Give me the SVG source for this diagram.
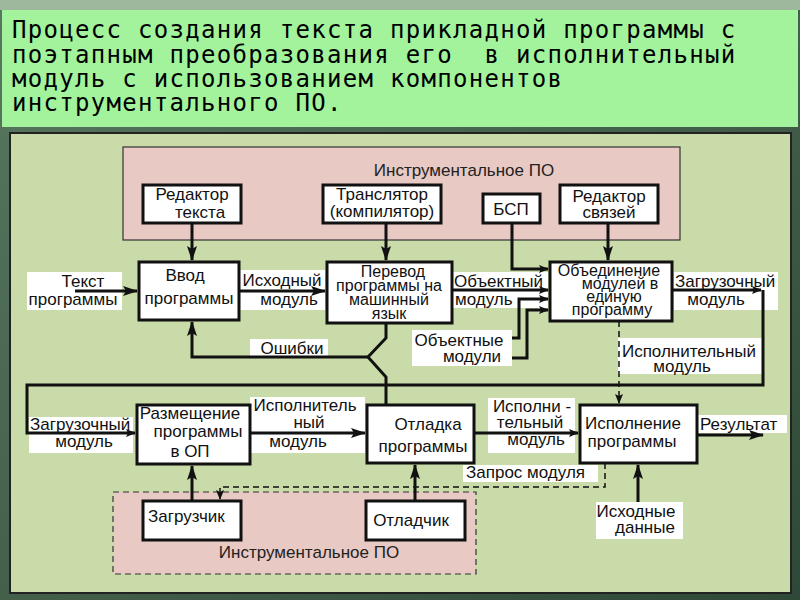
<svg xmlns="http://www.w3.org/2000/svg" width="800" height="600" viewBox="0 0 800 600">
<defs>
<linearGradient id="bg" x1="0" y1="0" x2="1" y2="1">
<stop offset="0" stop-color="#58785f"/>
<stop offset="1" stop-color="#2f4837"/>
</linearGradient>
<marker id="a" markerUnits="userSpaceOnUse" markerWidth="16" markerHeight="10" refX="14" refY="5" orient="auto">
<path d="M0,0 L15,5 L0,10 L3,5 Z" fill="#111"/>
</marker>
<marker id="s" markerUnits="userSpaceOnUse" markerWidth="10" markerHeight="8" refX="9" refY="4" orient="auto">
<path d="M0,0 L10,4 L0,8 L2,4 Z" fill="#111"/>
</marker>
<style>
text{font-family:"Liberation Sans",Arial,sans-serif;font-size:17px;fill:#111}
.t{font-family:"DejaVu Sans Mono",monospace;font-size:24px;letter-spacing:1.3px;fill:#000}
.m{text-anchor:middle}
.k{font-size:16px}
.box{fill:#fff;stroke:#111;stroke-width:3}
.lb{fill:#fff;stroke:none}
.c{fill:none;stroke:#111;stroke-width:3}
.d{fill:none;stroke:#111;stroke-width:1.5;stroke-dasharray:6,4}
.pink{fill:#e8c9c3;stroke:#333;stroke-width:1.2}
.pl{fill:#222}
</style>
</defs>
<rect width="800" height="600" fill="url(#bg)"/>
<rect x="0" y="0" width="800" height="10" fill="#9db89d"/>
<rect x="2" y="10" width="796" height="117" fill="#a2f39b"/>
<g id="title">
<text class="t" x="12" y="38">Процесс создания текста прикладной программы с</text>
<text class="t" x="12" y="63" xml:space="preserve">поэтапным преобразования его  в исполнительный</text>
<text class="t" x="12" y="87">модуль с использованием компонентов</text>
<text class="t" x="12" y="111">инструментального ПО.</text>
</g>
<rect x="10" y="133" width="781" height="460" fill="#c8dba9" stroke="#222" stroke-width="2"/>
<g id="tools-top">
<rect class="pink" x="123" y="147" width="557" height="93"/>
<text class="m pl" x="464" y="176">Инструментальное ПО</text>
</g>
<g id="tools-bottom">
<rect class="pink" x="113" y="492" width="363" height="82" stroke-dasharray="6,4" stroke-width="1.5"/>
<text class="m pl" x="309" y="558">Инструментальное ПО</text>
</g>
<g id="labels">
<rect class="lb" x="27" y="272" width="95" height="38"/>
<rect class="lb" x="240" y="270" width="85" height="40"/>
<rect class="lb" x="453" y="272" width="95" height="36"/>
<rect class="lb" x="674" y="272" width="104" height="38"/>
<rect class="lb" x="250" y="339" width="78" height="18"/>
<rect class="lb" x="412" y="330" width="100" height="36"/>
<rect class="lb" x="618" y="338" width="144" height="36"/>
<rect class="lb" x="29" y="417" width="104" height="36"/>
<rect class="lb" x="250" y="397" width="115" height="56"/>
<rect class="lb" x="488" y="398" width="87" height="55"/>
<rect class="lb" x="697" y="415" width="90" height="18"/>
<rect class="lb" x="463" y="465" width="135" height="17"/>
<rect class="lb" x="596" y="502" width="87" height="37"/>
</g>
<g id="connectors">
<path class="c" d="M75,291 H137" marker-end="url(#a)"/>
<path class="c" d="M192,223 V260" marker-end="url(#a)"/>
<path class="c" d="M239,291 H325" marker-end="url(#a)"/>
<path class="c" d="M386,223 V260" marker-end="url(#a)"/>
<path class="c" d="M452,290 H548" marker-end="url(#s)"/>
<path class="c" d="M512,223 V269 H548" marker-end="url(#s)"/>
<path class="c" d="M608,223 V260" marker-end="url(#a)"/>
<path class="c" d="M512,338 H519 V299 H548" marker-end="url(#s)"/>
<path class="c" d="M512,358 H527 V310 H548" marker-end="url(#s)"/>
<path class="c" d="M672,290 H761" marker-end="url(#s)"/>
<path class="c" d="M763,290 V385 H27 V433 H135" marker-end="url(#s)"/>
<path class="c" d="M386,323 V338 L368,357 L386,377 V405"/>
<path class="c" d="M368,357 H192 V322" marker-end="url(#a)"/>
<path class="c" d="M250,433 H365" marker-end="url(#a)"/>
<path class="d" d="M367,433 H474"/>
<path class="c" d="M474,433 H578" marker-end="url(#s)"/>
<path class="c" d="M697,435 H763" marker-end="url(#a)"/>
<path class="c" d="M638,502 V465" marker-end="url(#a)"/>
<path class="c" d="M192,501 V466" marker-end="url(#a)"/>
<path class="c" d="M415,501 V465" marker-end="url(#a)"/>
<path class="d" d="M605,463 V487 H220 V499" marker-end="url(#s)"/>
<path class="d" d="M619,321 V403" marker-end="url(#s)"/>
</g>
<g id="label-text">
<text class="m" x="83" y="287">Текст</text>
<text class="m" x="73" y="305">программы</text>
<text class="m" x="282" y="286">Исходный</text>
<text class="m" x="289" y="305">модуль</text>
<text x="454" y="287">Объектный</text>
<text x="455" y="305">модуль</text>
<text x="675" y="287">Загрузочный</text>
<text class="m" x="716" y="305">модуль</text>
<text class="m" x="292" y="354">Ошибки</text>
<text class="m" x="459" y="346">Объектные</text>
<text class="m" x="472" y="362">модули</text>
<text class="m" x="689" y="357">Исполнительный</text>
<text class="m" x="682" y="372">модуль</text>
<text x="30" y="430">Загрузочный</text>
<text class="m" x="84" y="447">модуль</text>
<text class="m" x="305" y="411">Исполнитель</text>
<text class="m" x="309" y="428">ный</text>
<text class="m" x="298" y="447">модуль</text>
<text class="m" x="532" y="412">Исполни -</text>
<text class="m" x="530" y="428">тельный</text>
<text class="m" x="536" y="445">модуль</text>
<text x="700" y="430">Результат</text>
<text x="466" y="478">Запрос модуля</text>
<text class="m" x="636" y="517">Исходные</text>
<text class="m" x="645" y="533">данные</text>
</g>
<g id="n-editor">
<rect class="box" x="143" y="185" width="98" height="38"/>
<text class="m" x="192" y="200">Редактор</text>
<text class="m" x="200" y="218">текста</text>
</g>
<g id="n-translator">
<rect class="box" x="323" y="185" width="118" height="38"/>
<text class="m" x="382" y="200">Транслятор</text>
<text class="m" x="382" y="217">(компилятор)</text>
</g>
<g id="n-bsp">
<rect class="box" x="483" y="194" width="57" height="29"/>
<text class="m" x="511" y="215">БСП</text>
</g>
<g id="n-linkeditor">
<rect class="box" x="560" y="185" width="98" height="38"/>
<text class="m" x="609" y="202">Редактор</text>
<text class="m" x="609" y="218">связей</text>
</g>
<g id="n-input">
<rect class="box" x="139" y="262" width="100" height="58"/>
<text class="m" x="185" y="281">Ввод</text>
<text class="m" x="189" y="304">программы</text>
</g>
<g id="n-translate">
<rect class="box" x="327" y="262" width="125" height="61"/>
<text class="m k" x="393" y="277">Перевод</text>
<text class="m k" x="389" y="291">программы на</text>
<text class="m k" x="389" y="305">машинный</text>
<text class="m k" x="389" y="319">язык</text>
</g>
<g id="n-link">
<rect class="box" x="550" y="262" width="122" height="59"/>
<text class="m k" x="609" y="276">Объединение</text>
<text class="m k" x="620" y="289">модулей в</text>
<text class="m k" x="614" y="302">единую</text>
<text class="m k" x="612" y="315">программу</text>
</g>
<g id="n-place">
<rect class="box" x="137" y="405" width="113" height="59"/>
<text class="m" x="190" y="419">Размещение</text>
<text class="m" x="198" y="437">программы</text>
<text class="m" x="190" y="457">в ОП</text>
</g>
<g id="n-debug">
<rect class="box" x="367" y="405" width="107" height="58"/>
<text class="m" x="428" y="430">Отладка</text>
<text class="m" x="423" y="452">программы</text>
</g>
<g id="n-exec">
<rect class="box" x="580" y="405" width="117" height="58"/>
<text class="m" x="633" y="429">Исполнение</text>
<text class="m" x="632" y="447">программы</text>
</g>
<g id="n-loader">
<rect class="box" x="143" y="501" width="98" height="39"/>
<text x="148" y="522">Загрузчик</text>
</g>
<g id="n-debugger">
<rect class="box" x="366" y="501" width="99" height="39"/>
<text class="m" x="411" y="526">Отладчик</text>
</g>
</svg>
